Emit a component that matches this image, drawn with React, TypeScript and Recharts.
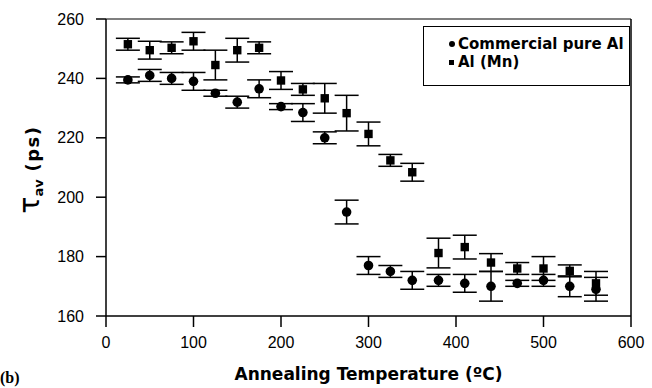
import { ScatterChart, Scatter, XAxis, YAxis, ErrorBar, Legend } from "recharts";

// annealing temperature (°C) for both sample sets
const temps = [25, 50, 75, 100, 125, 150, 175, 200, 225, 250, 275, 300, 325, 350, 380, 410, 440, 470, 500, 530, 560];
// average positron lifetime (ps)
const pureAl = [239.5, 241, 240, 239, 235, 232, 236.5, 230.5, 228.5, 220, 195, 177, 175, 172, 172, 171, 170, 171, 172, 170, 169];
const pureAlErr = [1, 2, 2, 3, 1, 2, 3, 1, 3, 2, 4, 3, 2, 3, 2, 3, 5, 1, 2, 3.5, 4];
const alMn = [251.5, 249.5, 250.3, 252.5, 244.5, 249.5, 250.3, 239.3, 236.3, 233.3, 228.3, 221.3, 212.4, 208.4, 181.2, 183.2, 178, 176, 176, 175.2, 171];
const alMnErr = [2, 3, 2, 3, 5, 4, 2, 3, 2, 5, 6, 4, 2, 3, 5, 4, 3, 2, 4, 2, 4];

const xTicks = [0, 100, 200, 300, 400, 500, 600];
const yTicks = [160, 180, 200, 220, 240, 260];

const pureData = temps.map((t, i) => ({ t, v: pureAl[i], err: pureAlErr[i] }));
const mnData = temps.map((t, i) => ({ t, v: alMn[i], err: alMnErr[i] }));

const tickFont = { fontFamily: "Liberation Sans, Arial, sans-serif", fontSize: 16, fill: "#000" };

const DotShape = (props: any) => <circle cx={props.cx} cy={props.cy} r={4.8} fill="#000" />;
const SquareShape = (props: any) => (
  <rect x={props.cx - 4.2} y={props.cy - 4.2} width={8.4} height={8.4} fill="#000" />
);

const legendBox = () => (
  <div
    style={{
      position: "relative",
      width: 207,
      height: 60,
      boxSizing: "border-box",
      border: "1.5px solid #000",
      background: "#fff",
      fontFamily: "DejaVu Sans, sans-serif",
      fontWeight: "bold",
      fontSize: 15,
      color: "#000",
      lineHeight: "18px",
    }}
  >
    <div style={{ position: "absolute", left: 25, top: 8, whiteSpace: "nowrap" }}>
      <span style={{ display: "inline-block", width: 6, height: 6, borderRadius: 3, background: "#000", marginRight: 3, verticalAlign: 2 }} />
      Commercial pure Al
    </div>
    <div style={{ position: "absolute", left: 25, top: 26, whiteSpace: "nowrap" }}>
      <span style={{ display: "inline-block", width: 5, height: 5, background: "#000", marginRight: 4, verticalAlign: 2 }} />
      Al (Mn)
    </div>
  </div>
);

const xTitle = (props: any) => {
  const vb = props.viewBox;
  return (
    <text
      x={vb.x + vb.width / 2}
      y={vb.y + 64}
      textAnchor="middle"
      fontFamily="DejaVu Sans, sans-serif"
      fontWeight="bold"
      fontSize={17}
      fill="#000"
    >
      Annealing Temperature (ºC)
    </text>
  );
};

const yTitle = (props: any) => {
  const vb = props.viewBox;
  const cx = 39;
  const cy = vb.y + vb.height / 2 + 2;
  return (
    <text
      transform={`rotate(-90, ${cx}, ${cy})`}
      x={cx}
      y={cy}
      textAnchor="middle"
      fontFamily="DejaVu Sans, sans-serif"
      fontWeight="bold"
      fill="#000"
    >
      <tspan fontSize={28} fontWeight="normal">τ</tspan>
      <tspan fontSize={13} dy={4}>av</tspan>
      <tspan fontSize={18} dy={-4} letterSpacing={1.5}> (ps)</tspan>
    </text>
  );
};

export default function App() {
  return (
    <div style={{ position: "absolute", left: 0, top: 0, width: 652, height: 388, background: "#fff", overflow: "hidden" }}>
      <ScatterChart width={652} height={388} margin={{ top: 19, right: 20, left: 0, bottom: 0 }}>
        <XAxis
          xAxisId="b"
          type="number"
          dataKey="t"
          domain={[0, 600]}
          ticks={xTicks}
          height={72}
          tickSize={11}
          tickMargin={10}
          tick={tickFont}
          stroke="#000"
          strokeWidth={1.5}
          label={xTitle}
        />
        <XAxis
          xAxisId="top"
          orientation="top"
          type="number"
          domain={[0, 600]}
          ticks={xTicks}
          height={1}
          mirror
          tickSize={7}
          tickFormatter={() => ""}
          stroke="#000"
          strokeWidth={1.2}
        />
        <YAxis
          yAxisId="l"
          type="number"
          dataKey="v"
          domain={[160, 260]}
          ticks={yTicks}
          width={106}
          tickSize={10}
          tickMargin={12}
          tick={tickFont}
          stroke="#000"
          strokeWidth={1.5}
          label={yTitle}
        />
        <YAxis
          yAxisId="r"
          orientation="right"
          type="number"
          domain={[160, 260]}
          width={1}
          tick={false}
          tickLine={false}
          stroke="#000"
          strokeWidth={1.5}
        />
        <Legend
          layout="vertical"
          align="center"
          verticalAlign="middle"
          content={legendBox}
          wrapperStyle={{ position: "absolute", left: 423, top: 26, width: 207, height: 60 }}
        />
        <Scatter
          name="Commercial pure Al"
          data={pureData}
          xAxisId="b"
          yAxisId="l"
          shape={DotShape}
          isAnimationActive={false}
        >
          <ErrorBar dataKey="err" direction="y" width={12} stroke="#000" strokeWidth={1.5} />
        </Scatter>
        <Scatter
          name="Al (Mn)"
          data={mnData}
          xAxisId="b"
          yAxisId="l"
          shape={SquareShape}
          isAnimationActive={false}
        >
          <ErrorBar dataKey="err" direction="y" width={12} stroke="#000" strokeWidth={1.5} />
        </Scatter>
      </ScatterChart>
      <div
        style={{
          position: "absolute",
          left: 0,
          top: 369,
          fontFamily: "Liberation Serif, serif",
          fontWeight: "bold",
          fontSize: 16,
          lineHeight: "18px",
        }}
      >
        (b)
      </div>
    </div>
  );
}
